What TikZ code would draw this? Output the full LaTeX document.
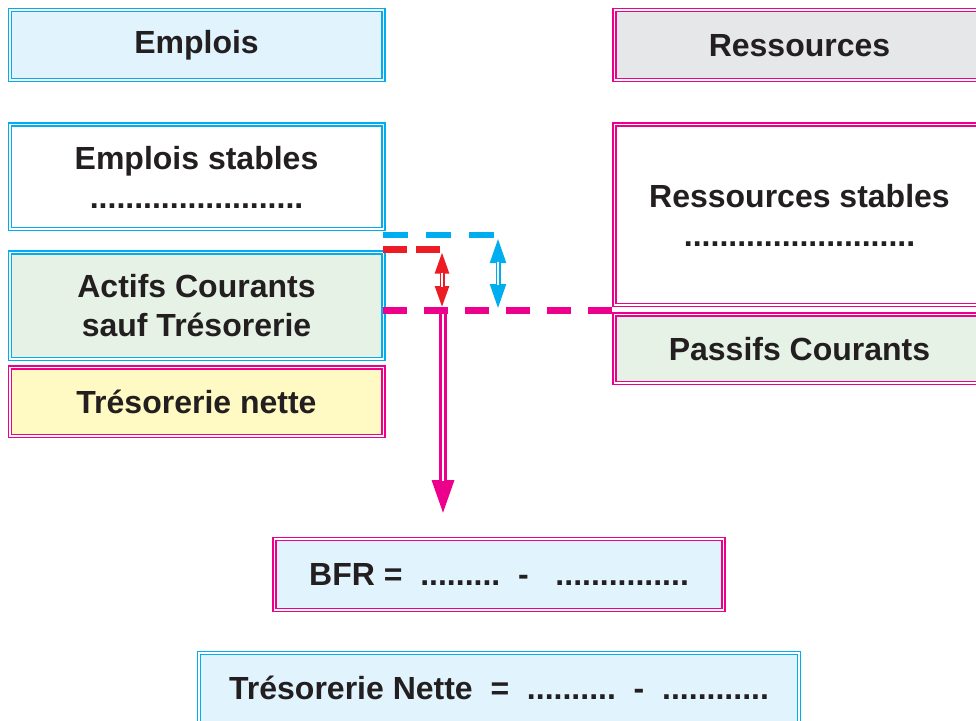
\documentclass[tikz,border=0pt]{standalone}
\usepackage{fontspec}
\setsansfont{Liberation Sans}
\usepackage{xcolor}
\usepackage{tikz}
\usetikzlibrary{arrows.meta, positioning}
\definecolor{cyanLine}{HTML}{00AEEF}
\definecolor{magentaLine}{HTML}{EC008C}
\definecolor{redLine}{HTML}{ED1C24}
\definecolor{textDark}{HTML}{231F20}
\definecolor{blueFill}{HTML}{E1F3FC}
\definecolor{grayFill}{HTML}{E6E7E8}
\definecolor{greenFill}{HTML}{E7F2E6}
\definecolor{yellowFill}{HTML}{FFF9C3}

\begin{document}
\begin{tikzpicture}[
  x=1pt, y=-1pt,
  every node/.style={font=\sffamily\bfseries\fontsize{32}{39}\selectfont, text=textDark, align=center},
  boxBase/.style={double=white, double distance=1.6pt, line width=1.4pt, inner sep=0pt, outer sep=0pt},
  cyanBox/.style={boxBase, draw=cyanLine},
  magBox/.style={boxBase, draw=magentaLine},
  dashCyan/.style={draw=cyanLine, line width=6pt, dash pattern=on 25pt off 18pt},
  dashRed/.style={draw=redLine, line width=6.5pt, dash pattern=on 24pt off 9pt},
  dashMag/.style={draw=magentaLine, line width=7pt, dash pattern=on 24pt off 17pt},
  gapLine/.style={draw=white, line width=1.6pt}
]
  \useasboundingbox (0,0) rectangle (976,720);

  \node[cyanBox, fill=blueFill, minimum width=373.6pt, minimum height=70.1pt] (empl) at (196.5,45.2) {Emplois};
  \node[cyanBox, fill=white, minimum width=373.6pt, minimum height=104.6pt, below=44.4pt of empl] (emplStab) {Emplois stables\\........................};
  \node[cyanBox, fill=greenFill, minimum width=373.6pt, minimum height=106.3pt, below=23.4pt of emplStab] (actCour) {Actifs Courants\\sauf Trésorerie};
  \node[magBox, fill=yellowFill, minimum width=373.6pt, minimum height=68.6pt, below=8.4pt of actCour] (tresNet) {Trésorerie nette};

  \node[magBox, fill=grayFill, minimum width=370pt, minimum height=70.1pt, right=231.2pt of empl] (ress) {Ressources};
  \node[magBox, fill=white, minimum width=370pt, minimum height=180.6pt, below=44.4pt of ress] (ressStab) {Ressources stables\\..........................};
  \node[magBox, fill=greenFill, minimum width=370pt, minimum height=68.6pt, below=9.4pt of ressStab] (passCour) {Passifs Courants};

  \node[magBox, fill=blueFill, minimum width=449pt, minimum height=70.6pt] (bfr) at (499,574.5) {BFR =~~.........~~-~~~...............};
  \node[cyanBox, fill=blueFill, minimum width=599.6pt, minimum height=70.6pt, below=43.1pt of bfr] (tresEq) {Trésorerie Nette~~=~~..........~~-~~............};

  \coordinate (cyanTurn) at (498,234.5);
  \coordinate (redTurn) at (442,249.5);
  \coordinate (bfrFork) at (443,310);

  \draw[magentaLine, line width=8pt, -{Triangle[length=35pt, width=20pt]}, shorten >=24pt] (bfrFork) -- (bfrFork |- bfr.north);
  \draw[gapLine, line width=2.4pt, shorten <=4pt, shorten >=58pt] (bfrFork) -- (bfrFork |- bfr.north);

  \draw[dashCyan] (cyanTurn -| emplStab.east) -- (cyanTurn);
  \draw[dashRed] (redTurn -| actCour.east) -- (redTurn);
  \draw[dashMag] (bfrFork -| actCour.east) -- (bfrFork -| passCour.west);

  \draw[redLine, line width=5pt, {Triangle[length=22pt, width=13pt]}-{Triangle[length=22pt, width=13pt]}, shorten <=2pt, shorten >=2pt] (redTurn) -- (redTurn |- bfrFork);
  \draw[gapLine, shorten <=23pt, shorten >=23pt] (redTurn) -- (redTurn |- bfrFork);
  \draw[cyanLine, line width=5pt, {Triangle[length=25pt, width=15pt]}-{Triangle[length=25pt, width=15pt]}, shorten <=3.5pt, shorten >=1pt] (cyanTurn) -- (cyanTurn |- bfrFork);
  \draw[gapLine, shorten <=27pt, shorten >=25pt] (cyanTurn) -- (cyanTurn |- bfrFork);

\end{tikzpicture}
\end{document}
